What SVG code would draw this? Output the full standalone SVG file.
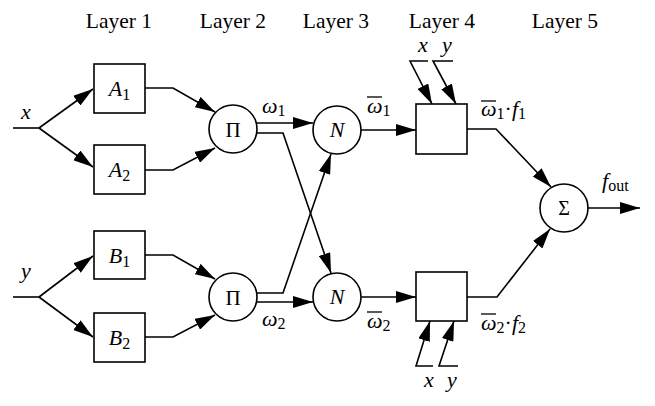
<svg xmlns="http://www.w3.org/2000/svg" width="655" height="406" viewBox="0 0 655 406">
<style>
.ln{fill:none;stroke:#000;stroke-width:1.6}
.arr{marker-end:url(#ah)}
.shp{fill:#fff;stroke:#000;stroke-width:1.6}
.ov{stroke:#000;stroke-width:1.3}
text{font-family:"Liberation Serif","Times New Roman",serif;fill:#000}
.layer{font-size:21.5px;text-anchor:middle}
.lbl{font-size:22px}
.mid{text-anchor:middle}
.it{font-style:italic}
.sub{font-size:16px;font-style:normal}
</style>
<defs>
<marker id="ah" markerUnits="userSpaceOnUse" markerWidth="20" markerHeight="12" refX="20" refY="6" orient="auto" viewBox="0 0 20 12"><path d="M0,0 L20,6 L0,12 z" fill="#000"/></marker>
</defs>
<rect width="655" height="406" fill="#fff"/>
<g id="layer-titles">
<text class="layer" x="119" y="28">Layer 1</text>
<text class="layer" x="233" y="28">Layer 2</text>
<text class="layer" x="336" y="28">Layer 3</text>
<text class="layer" x="442" y="28">Layer 4</text>
<text class="layer" x="565" y="28">Layer 5</text>
</g>
<g id="connectors">
<path class="ln" d="M13,128 L39,128"/>
<path class="ln arr" d="M39,128 L93,89"/>
<path class="ln arr" d="M39,128 L93,167"/>
<path class="ln" d="M13,297 L39,297"/>
<path class="ln arr" d="M39,297 L93,256"/>
<path class="ln arr" d="M39,297 L93,337"/>
<path class="ln arr" d="M145,88 L173,88 L215,112"/>
<path class="ln arr" d="M145,170 L173,170 L215,148"/>
<path class="ln arr" d="M145,255 L173,255 L215,279"/>
<path class="ln arr" d="M145,337 L173,337 L215,315"/>
<path class="ln arr" d="M256,123 L313,123"/>
<path class="ln arr" d="M256,133 L283,133 L331,273"/>
<path class="ln arr" d="M256,293 L283,293 L331,154"/>
<path class="ln arr" d="M256,302 L313,302"/>
<path class="ln arr" d="M361,130 L416,130"/>
<path class="ln arr" d="M361,297 L416,297"/>
<path class="ln arr" d="M467,129 L496,129 L551,187"/>
<path class="ln arr" d="M467,297 L497,297 L550,229"/>
<path class="ln arr" d="M588,208 L640,208"/>
<path class="ln arr" d="M428,61 L410,61 L432,104"/>
<path class="ln arr" d="M453,61 L433,61 L456,104"/>
<path class="ln arr" d="M433,366 L416,366 L430,321"/>
<path class="ln arr" d="M458,366 L439,366 L454,321"/>
</g>
<g id="inputs">
<text class="lbl it" x="21" y="119">x</text>
<text class="lbl it" x="21" y="278">y</text>
<text class="lbl it" x="418" y="52">x</text>
<text class="lbl it" x="442" y="52">y</text>
<text class="lbl it" x="424" y="387">x</text>
<text class="lbl it" x="447" y="387">y</text>
</g>
<g id="A1"><rect class="shp" x="94" y="64" width="51" height="49"/><text class="lbl mid" x="119.5" y="96"><tspan class="it">A</tspan><tspan class="sub" dy="4">1</tspan></text></g>
<g id="A2"><rect class="shp" x="94" y="145" width="51" height="49"/><text class="lbl mid" x="119.5" y="177"><tspan class="it">A</tspan><tspan class="sub" dy="4">2</tspan></text></g>
<g id="B1"><rect class="shp" x="94" y="231" width="51" height="48"/><text class="lbl mid" x="119.5" y="262.5"><tspan class="it">B</tspan><tspan class="sub" dy="4">1</tspan></text></g>
<g id="B2"><rect class="shp" x="94" y="313" width="51" height="49"/><text class="lbl mid" x="119.5" y="345"><tspan class="it">B</tspan><tspan class="sub" dy="4">2</tspan></text></g>
<g id="Pi1"><circle class="shp" cx="233" cy="129" r="24"/><text class="mid" font-size="21" x="233" y="136.5">Π</text></g>
<g id="Pi2"><circle class="shp" cx="233" cy="297" r="24"/><text class="mid" font-size="21" x="233" y="304.5">Π</text></g>
<g id="N1"><circle class="shp" cx="337" cy="130" r="24"/><text class="lbl mid it" x="337" y="137">N</text></g>
<g id="N2"><circle class="shp" cx="337" cy="297" r="24"/><text class="lbl mid it" x="337" y="304">N</text></g>
<g id="L4a"><rect class="shp" x="416" y="104" width="51" height="50"/></g>
<g id="L4b"><rect class="shp" x="416" y="272" width="51" height="49"/></g>
<g id="Sigma"><circle class="shp" cx="564" cy="208" r="24"/><text class="mid" font-size="20" x="564" y="215">Σ</text></g>
<g id="edge-labels">
<text class="lbl" x="262" y="113"><tspan class="it">ω</tspan><tspan class="sub" dy="3">1</tspan></text>
<text class="lbl" x="262" y="326"><tspan class="it">ω</tspan><tspan class="sub" dy="3">2</tspan></text>
<text class="lbl" x="367" y="113"><tspan class="it">ω</tspan><tspan class="sub" dy="3">1</tspan></text>
<line class="ov" x1="367" y1="97" x2="382" y2="97"/>
<text class="lbl" x="367" y="328"><tspan class="it">ω</tspan><tspan class="sub" dy="3">2</tspan></text>
<line class="ov" x1="367" y1="312" x2="382" y2="312"/>
<text class="lbl" x="481" y="116"><tspan class="it">ω</tspan><tspan class="sub" dy="3">1</tspan><tspan dy="-3">·</tspan><tspan class="it">f</tspan><tspan class="sub" dy="3">1</tspan></text>
<line class="ov" x1="481" y1="101" x2="496" y2="101"/>
<text class="lbl" x="481" y="330"><tspan class="it">ω</tspan><tspan class="sub" dy="3">2</tspan><tspan dy="-3">·</tspan><tspan class="it">f</tspan><tspan class="sub" dy="3">2</tspan></text>
<line class="ov" x1="481" y1="314" x2="496" y2="314"/>
<text class="lbl" x="602" y="188"><tspan class="it">f</tspan><tspan class="sub" dy="3">out</tspan></text>
</g>
</svg>
